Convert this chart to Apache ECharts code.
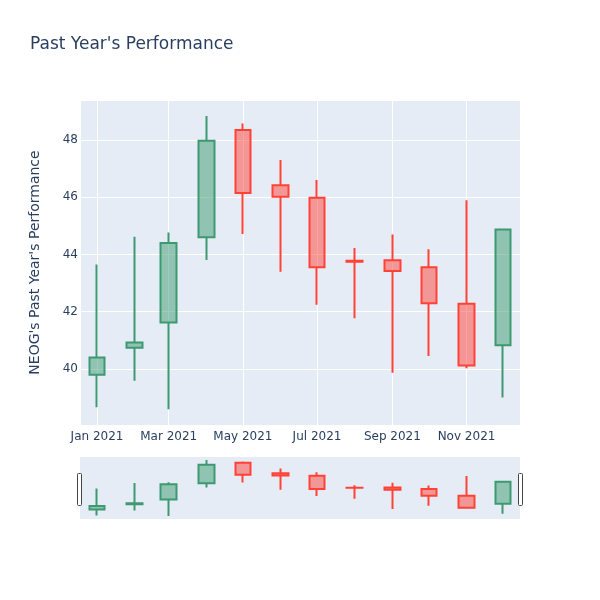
<!DOCTYPE html>
<html>
<head>
<meta charset="utf-8">
<script src="https://cdn.jsdelivr.net/npm/echarts@6/dist/echarts.min.js"></script>
<style>html,body{margin:0;padding:0;background:#fff}#c{width:600px;height:600px}</style>
</head>
<body>
<div id="c"></div>
<script>
const months = ['2021-01-01','2021-02-01','2021-03-01','2021-04-01','2021-05-01','2021-06-01','2021-07-01','2021-08-01','2021-09-01','2021-10-01','2021-11-01','2021-12-01'];
const opens  = [39.80, 40.74, 41.62, 44.60, 48.35, 46.42, 45.98, 43.78, 43.80, 43.55, 42.28, 40.83];
const closes = [40.40, 40.92, 44.40, 47.98, 46.15, 46.02, 43.55, 43.75, 43.42, 42.30, 40.12, 44.87];
const lows   = [38.66, 39.59, 38.59, 43.81, 44.72, 43.40, 42.24, 41.77, 39.87, 40.45, 40.02, 39.00];
const highs  = [43.65, 44.62, 44.77, 48.84, 48.58, 47.30, 46.60, 44.23, 44.70, 44.18, 45.90, 44.89];
const yTicks = [40, 42, 44, 46, 48];
const monthNames = ['Jan','Feb','Mar','Apr','May','Jun','Jul','Aug','Sep','Oct','Nov','Dec'];

const xMin = new Date(2020, 11, 18).getTime();
const xMax = new Date(2021, 11, 15).getTime();
const yMin = 38.04, yMax = 49.40;

function toTime(s){ const p = s.split('-').map(Number); return new Date(p[0], p[1]-1, p[2]).getTime(); }
const ohlc = months.map((m, i) => [toTime(m), opens[i], closes[i], lows[i], highs[i]]);

const font = '"DejaVu Sans", Verdana, sans-serif';
const txt = '#2a3f5f';
const candleStyle = {
  color: 'rgba(61,153,112,0.5)',
  color0: 'rgba(255,65,54,0.5)',
  borderColor: '#3D9970',
  borderColor0: '#FF4136',
  borderWidth: 2
};

const chart = echarts.init(document.getElementById('c'), null, {renderer: 'canvas'});
chart.setOption({
  animation: false,
  backgroundColor: '#fff',
  title: {
    text: "Past Year's Performance",
    left: 25, top: 31,
    textStyle: {fontFamily: font, fontSize: 17, fontWeight: 'normal', color: txt}
  },
  grid: [
    {left: 80, top: 100, width: 440, height: 325, show: true, backgroundColor: '#E5ECF6', borderWidth: 0},
    {left: 80, top: 457, width: 440, height: 62, show: true, backgroundColor: '#E5ECF6', borderWidth: 0}
  ],
  xAxis: [
    {
      type: 'time', gridIndex: 0, min: xMin, max: xMax, splitNumber: 6,
      axisLine: {show: false}, axisTick: {show: false},
      splitLine: {show: true, lineStyle: {color: '#fff', width: 1}},
      axisLabel: {
        color: txt, fontFamily: font, fontSize: 12, margin: 6, hideOverlap: false,
        formatter: function (v) { const d = new Date(v); return monthNames[d.getMonth()] + ' ' + d.getFullYear(); }
      }
    },
    {
      type: 'time', gridIndex: 1, min: xMin, max: xMax,
      axisLine: {show: false}, axisTick: {show: false}, axisLabel: {show: false}, splitLine: {show: false}
    }
  ],
  yAxis: [
    {
      type: 'value', gridIndex: 0, min: yMin, max: yMax, splitNumber: 5,
      axisLine: {show: false}, axisTick: {show: false},
      splitLine: {show: true, lineStyle: {color: '#fff', width: 1}},
      axisLabel: {
        color: txt, fontFamily: font, fontSize: 12, margin: 2,
        showMinLabel: false, showMaxLabel: false,
        formatter: function (v) {
          const n = Math.round(Number(v));
          return (Math.abs(Number(v) - n) < 1e-6 && yTicks.indexOf(n) >= 0) ? String(n) : '';
        }
      },
      name: "NEOG's Past Year's Performance", nameLocation: 'middle', nameGap: 38,
      nameTextStyle: {color: txt, fontFamily: font, fontSize: 14}
    },
    {
      type: 'value', gridIndex: 1, min: yMin, max: yMax,
      axisLine: {show: false}, axisTick: {show: false}, axisLabel: {show: false}, splitLine: {show: false}
    }
  ],
  series: [
    {type: 'candlestick', xAxisIndex: 0, yAxisIndex: 0, data: ohlc, barWidth: 16, itemStyle: candleStyle},
    {type: 'candlestick', xAxisIndex: 1, yAxisIndex: 1, data: ohlc, barWidth: 16, itemStyle: candleStyle}
  ],
  graphic: [
    {type: 'rect', left: 77, top: 473, shape: {width: 4, height: 32, r: 1}, style: {fill: '#fff', stroke: '#444', lineWidth: 1}},
    {type: 'rect', left: 518, top: 473, shape: {width: 4, height: 32, r: 1}, style: {fill: '#fff', stroke: '#444', lineWidth: 1}}
  ]
});
</script>
</body>
</html>
